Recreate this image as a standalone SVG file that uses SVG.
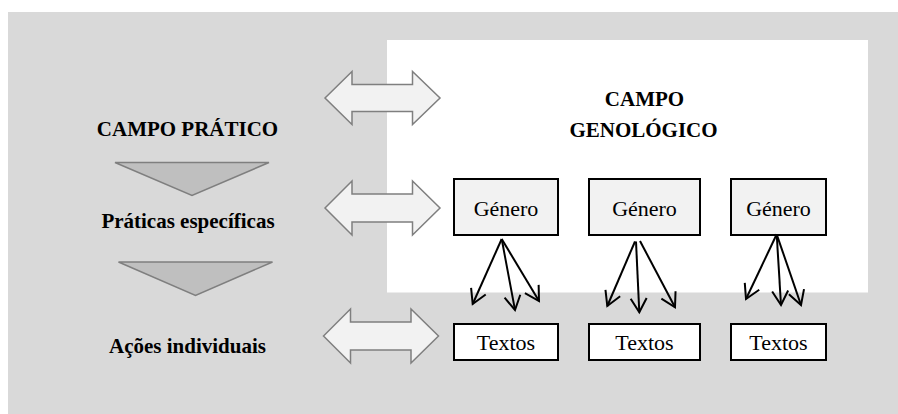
<svg xmlns="http://www.w3.org/2000/svg" width="898" height="414" viewBox="0 0 898 414">
  <defs>
    <style>
      text { font-family: "Liberation Serif", "DejaVu Serif", "Times New Roman", Times, serif; fill: #000; text-anchor: middle; }
      .bold { font-weight: bold; font-size: 21px; }
      .reg { font-size: 22px; }
      .dbl { fill: #f2f2f2; stroke: #7f7f7f; stroke-width: 1.5; stroke-linejoin: miter; }
      .tri { fill: #bfbfbf; stroke: #7f7f7f; stroke-width: 1.5; }
      .genero { fill: #f2f2f2; stroke: #000; stroke-width: 2; }
      .textos { fill: #fff; stroke: #000; stroke-width: 2; }
      .link { fill: none; stroke: #000; stroke-width: 2; marker-end: url(#vhead); }
    </style>
    <marker id="vhead" markerUnits="userSpaceOnUse" markerWidth="20" markerHeight="20" viewBox="-16 -10 18 20" refX="0" refY="0" orient="auto">
      <path d="M -14 -8 L 0 0 L -14 8" fill="none" stroke="#000" stroke-width="2"/>
    </marker>
  </defs>

  <!-- background fields -->
  <rect id="campo-pratico-bg" x="8" y="12" width="890" height="402" fill="#d9d9d9"/>
  <rect id="campo-genologico-bg" x="387" y="40" width="481" height="252.5" fill="#ffffff"/>

  <!-- left column -->
  <g id="campo-pratico">
    <text class="bold" x="187.5" y="136">CAMPO PRÁTICO</text>
  </g>
  <g id="seta-1">
    <polygon class="tri" points="115,162.5 269,162.5 192,195.5"/>
  </g>
  <g id="praticas">
    <text class="bold" x="188" y="228">Práticas específicas</text>
  </g>
  <g id="seta-2">
    <polygon class="tri" points="118.5,262 272.5,262 195.5,295.5"/>
  </g>
  <g id="acoes">
    <text class="bold" x="187.5" y="353">Ações individuais</text>
  </g>

  <!-- two-way arrows between the fields -->
  <g id="dupla-1">
    <polygon class="dbl" points="325,98 352,71.5 352,84.5 412.5,84.5 412.5,71.5 440,98 412.5,124.5 412.5,111.5 352,111.5 352,124.5"/>
  </g>
  <g id="dupla-2">
    <polygon class="dbl" points="325,208 352,181 352,194 412.5,194 412.5,181 440,208 412.5,235 412.5,222 352,222 352,235"/>
  </g>
  <g id="dupla-3">
    <polygon class="dbl" points="323.5,336 350.5,309 350.5,322 411,322 411,309 438.5,336 411,363 411,350 350.5,350 350.5,363"/>
  </g>

  <!-- right field -->
  <g id="campo-genologico">
    <text class="bold" x="644.5" y="106">CAMPO</text>
    <text class="bold" x="643.5" y="136.5">GENOLÓGICO</text>
  </g>

  <g id="genero-1">
    <rect class="genero" x="454" y="179" width="104" height="56"/>
    <text class="reg" x="506" y="216">Género</text>
  </g>
  <g id="genero-2">
    <rect class="genero" x="589" y="179" width="111" height="56"/>
    <text class="reg" x="644.5" y="216">Género</text>
  </g>
  <g id="genero-3">
    <rect class="genero" x="731" y="179" width="95" height="56"/>
    <text class="reg" x="778.5" y="216">Género</text>
  </g>

  <g id="textos-1">
    <rect class="textos" x="454" y="324" width="104" height="36"/>
    <text class="reg" x="506" y="350">Textos</text>
  </g>
  <g id="textos-2">
    <rect class="textos" x="589" y="324" width="111" height="36"/>
    <text class="reg" x="644.5" y="350">Textos</text>
  </g>
  <g id="textos-3">
    <rect class="textos" x="731" y="324" width="95" height="36"/>
    <text class="reg" x="778.5" y="350">Textos</text>
  </g>

  <!-- genre-to-text connectors -->
  <g id="conectores">
    <line class="link" x1="501.7" y1="239" x2="472.7" y2="304"/>
    <line class="link" x1="501.7" y1="239" x2="515" y2="310"/>
    <line class="link" x1="501.7" y1="239" x2="539" y2="301"/>
    <line class="link" x1="635" y1="241.5" x2="607.3" y2="306"/>
    <line class="link" x1="636" y1="241.5" x2="639.3" y2="312.3"/>
    <line class="link" x1="640" y1="241" x2="675" y2="307.3"/>
    <line class="link" x1="776.7" y1="234.3" x2="746" y2="299"/>
    <line class="link" x1="776.7" y1="234.3" x2="781" y2="305"/>
    <line class="link" x1="776.7" y1="234.3" x2="801" y2="305"/>
  </g>
</svg>
